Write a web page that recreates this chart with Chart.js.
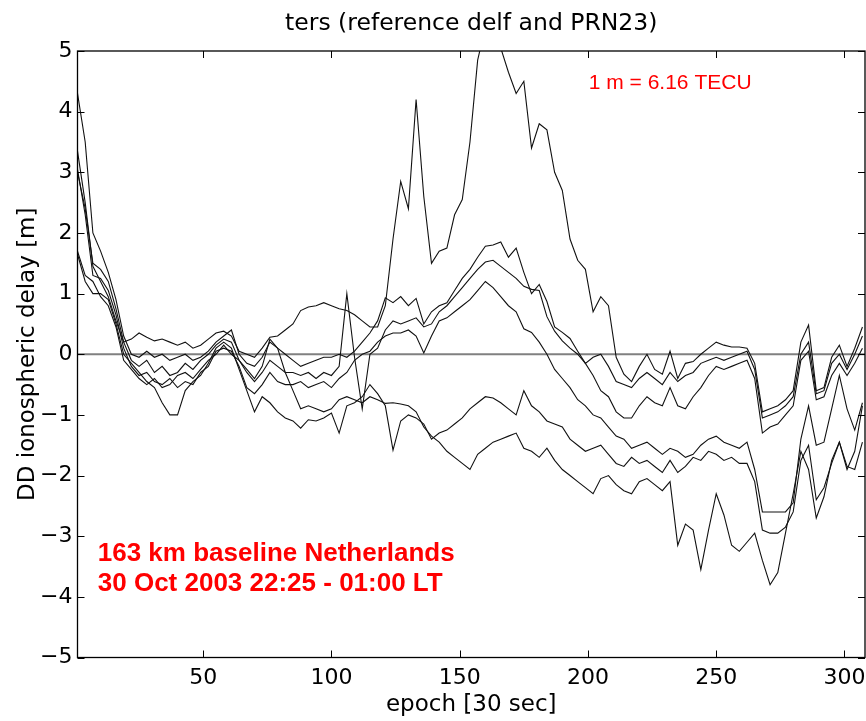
<!DOCTYPE html>
<html>
<head>
<meta charset="utf-8">
<script src="https://cdn.jsdelivr.net/npm/chart.js@4/dist/chart.umd.min.js"></script>
<style>
  html, body { margin: 0; padding: 0; background: #fff; }
  canvas { display: block; }
</style>
</head>
<body>
<canvas id="chart" width="866" height="721"></canvas>
<script>
// epochs (30 s) at which the double-difference delays are plotted
const epochs = [
  1, 4, 7, 10, 13, 16, 19, 22, 25, 28,
  31, 34, 37, 40, 43, 46, 49, 52, 55, 58,
  61, 64, 67, 70, 73, 76, 79, 82, 85, 88,
  91, 94, 97, 100, 103, 106, 109, 112, 115, 118,
  121, 124, 127, 130, 133, 136, 139, 142, 145, 148,
  151, 154, 157, 160, 163, 166, 169, 172, 175, 178,
  181, 184, 187, 190, 193, 196, 199, 202, 205, 208,
  211, 214, 217, 220, 223, 226, 229, 232, 235, 238,
  241, 244, 247, 250, 253, 256, 259, 262, 265, 268,
  271, 274, 277, 280, 283, 286, 289, 292, 295, 298,
  301, 304, 307
];

// DD ionospheric delay [m], one array per satellite pair
const ddA = [
  3.35, 2.5, 1.45, 1.2, 0.95, 0.55, 0.2, 0.25, 0.35, 0.28,
  0.22, 0.25, 0.2, 0.15, 0.2, 0.1, 0.15, 0.25, 0.35, 0.38,
  0.3, 0.05, 0.0, -0.05, 0.1, 0.28, 0.3, 0.4, 0.5, 0.72,
  0.78, 0.8, 0.85, 0.8, 0.75, 0.72, 0.65, 0.55, 0.45, 0.45,
  0.8, 1.9, 2.85, 2.4, 4.2, 2.6, 1.5, 1.7, 1.75, 2.3,
  2.55, 3.5, 4.85, 5.4, 5.5, 5.05, 4.65, 4.3, 4.5, 3.4,
  3.8, 3.7, 3.0, 2.7, 1.9, 1.55, 1.4, 0.7, 0.95, 0.8,
  -0.05, -0.33, -0.45, -0.2, 0.0, -0.25, -0.33, 0.05, -0.4, -0.15,
  -0.12, 0.0, 0.1, 0.2, 0.15, 0.12, 0.12, 0.1, -0.15, -0.95,
  -0.9, -0.85, -0.75, -0.6, 0.2, 0.48, -0.6, -0.55, -0.05, 0.15,
  -0.2, 0.1, 0.45
];
const ddB = [
  4.3, 3.5, 2.0, 1.7, 1.35, 0.9, 0.3, 0.0, -0.05, 0.05,
  -0.05, 0.0, -0.1, -0.05, 0.0, -0.1, -0.05, 0.05, 0.2, 0.3,
  0.4, 0.0, -0.15, -0.2, -0.05, 0.2, 0.1, 0.0, -0.1, -0.2,
  -0.15, -0.1, -0.05, -0.05, 0.0, -0.05, 0.05, 0.2, 0.35, 0.55,
  0.93, 0.85, 0.95, 0.8, 0.92, 0.5, 0.7, 0.8, 0.85, 1.05,
  1.25, 1.4, 1.6, 1.78, 1.8, 1.85, 1.6, 1.75, 1.35, 1.0,
  1.15, 0.87, 0.45, 0.36, 0.26, 0.05, -0.15, -0.05, 0.0, -0.2,
  -0.45, -0.5, -0.55, -0.4, -0.3, -0.4, -0.5, -0.3, -0.45, -0.35,
  -0.3, -0.15, -0.1, -0.05, -0.1, -0.05, 0.0, 0.05, -0.25, -1.05,
  -1.0, -0.95, -0.85, -0.7, 0.0, 0.2, -0.65, -0.6, -0.15, 0.0,
  -0.25, 0.0, 0.3
];
const ddC = [
  3.0, 2.4, 1.5, 1.4, 1.2, 0.75, 0.2, -0.1, -0.2, -0.1,
  -0.3, -0.2, -0.35, -0.3, -0.15, -0.25, -0.1, 0.0, 0.15, 0.25,
  0.2, -0.1, -0.3, -0.45, -0.3, -0.1, -0.2, -0.3, -0.3, -0.35,
  -0.3, -0.4, -0.3, -0.35, -0.2, 1.0, -0.05, -0.9, 0.0, 0.1,
  0.4, 0.55, 0.5, 0.55, 0.6, 0.45, 0.5, 0.7, 0.8, 0.95,
  1.1, 1.25, 1.4, 1.52, 1.55, 1.45, 1.35, 1.25, 1.12, 1.07,
  1.05, 0.62, 0.38, 0.22, 0.1, 0.0, -0.15, -0.35, -0.6, -0.7,
  -0.95, -1.05, -1.05, -0.85, -0.7, -0.8, -0.85, -0.55, -0.85, -0.9,
  -0.7, -0.55, -0.35, -0.2, -0.25, -0.2, -0.15, -0.1, -0.4, -1.3,
  -1.2, -1.15, -1.0, -0.85, -0.1, 0.05, -0.75, -0.7, -0.35, -0.15,
  -0.35, -0.15, 0.1
];
const ddD = [
  3.05, 2.3, 1.3, 1.25, 1.05, 0.65, 0.1, -0.2, -0.35, -0.3,
  -0.45, -0.5, -0.4, -0.55, -0.45, -0.5, -0.3, -0.2, 0.05, 0.1,
  0.05, -0.2, -0.55, -0.65, -0.5, -0.3, -0.45, -0.5, -0.5, -0.45,
  -0.55, -0.5, -0.45, -0.55, -0.4, -0.3, -0.1, 0.0, 0.05, 0.2,
  0.3, 0.35, 0.35, 0.4, 0.3, 0.02, 0.3, 0.55, 0.6, 0.7,
  0.8, 0.9, 1.05, 1.2, 1.1, 0.95, 0.8, 0.7, 0.42, 0.36,
  0.2, 0.0, -0.25, -0.4, -0.55, -0.75, -0.85, -1.0, -1.05, -1.2,
  -1.35, -1.4, -1.55, -1.5, -1.45, -1.55, -1.65, -1.55, -1.6, -1.7,
  -1.65, -1.5, -1.4, -1.35, -1.45, -1.5, -1.55, -1.45, -1.9, -2.6,
  -2.6, -2.6, -2.6, -2.45, -1.4, -0.85, -1.5, -1.45, -0.9, -0.35,
  -0.9, -1.25, -0.8
];
const ddE = [
  1.65, 1.2, 1.0, 1.0, 0.9, 0.5, 0.0, -0.15, -0.3, -0.45,
  -0.55, -0.8, -1.0, -1.0, -0.6, -0.45, -0.35, -0.15, 0.1, 0.2,
  0.1, -0.25, -0.6, -0.95, -0.7, -0.8, -0.95, -1.05, -1.1, -1.22,
  -1.08, -1.1, -1.05, -0.97, -1.3, -0.85, -0.8, -0.7, -0.5, -0.65,
  -0.85, -1.58, -1.1, -1.0, -1.05, -1.15, -1.4, -1.3, -1.25, -1.15,
  -1.05, -0.9, -0.8, -0.7, -0.72, -0.8, -0.9, -1.0, -0.6, -0.85,
  -0.95, -1.1, -1.15, -1.2, -1.4, -1.5, -1.6, -1.55, -1.5, -1.65,
  -1.8, -1.85, -1.7, -1.8, -1.75, -1.85, -1.95, -1.75, -1.95, -1.85,
  -1.7, -1.75, -1.6, -1.65, -1.75, -1.7, -1.8, -1.8, -2.1, -2.9,
  -2.95, -2.95, -2.85, -2.6, -1.75, -1.5, -2.4, -2.2, -1.8, -1.45,
  -1.85, -1.9, -1.45
];
const ddF = [
  1.7, 1.3, 1.2, 0.95, 0.8, 0.45, -0.1, -0.25, -0.4, -0.5,
  -0.4, -0.55, -0.5, -0.35, -0.3, -0.4, -0.25, -0.1, 0.0, 0.15,
  0.0, -0.1, -0.25, -0.4, -0.2, 0.25, 0.1, -0.3, -0.6, -0.9,
  -0.85, -0.9, -0.95, -0.9, -0.75, -0.7, -0.75, -0.8, -0.7, -0.75,
  -0.81, -0.8, -0.82, -0.85, -0.95, -1.2, -1.35, -1.45, -1.6, -1.7,
  -1.8, -1.9, -1.65, -1.55, -1.45, -1.4, -1.35, -1.3, -1.55, -1.6,
  -1.7, -1.55, -1.75, -1.9, -2.0, -2.1, -2.2, -2.3, -2.05, -2.0,
  -2.15, -2.25, -2.3, -2.1, -2.05, -2.15, -2.25, -2.1, -3.15, -2.8,
  -2.9, -3.55, -2.9, -2.3, -2.65, -3.15, -3.25, -3.1, -2.95, -3.4,
  -3.8, -3.6, -2.95, -2.3, -1.6, -1.9, -2.7, -2.35, -1.75, -1.45,
  -1.9, -1.6, -0.85
];

// zero reference line
const zeroEpochs = [1, 308];
const zeroValues = [0, 0];

// axis ticks
const xTicks = [50, 100, 150, 200, 250, 300];
const yTicks = [-5, -4, -3, -2, -1, 0, 1, 2, 3, 4, 5];

const titleText = 'ters (reference delf and PRN23)';
const xTitle = 'epoch [30 sec]';
const yTitle = 'DD ionospheric delay [m]';
const noteScale = '1 m = 6.16 TECU';
const noteLines = ['163 km baseline Netherlands', '30 Oct 2003 22:25 - 01:00 LT'];

const series = [ddA, ddB, ddC, ddD, ddE, ddF];
const toPoints = (xs, ys) => ys.map((v, i) => ({ x: xs[i], y: v }));

const datasets = series.map(vals => ({
  data: toPoints(epochs, vals),
  borderColor: '#111',
  borderWidth: 1.1,
  pointRadius: 0,
  tension: 0,
  fill: false
}));
datasets.push({
  data: toPoints(zeroEpochs, zeroValues),
  borderColor: '#808080',
  borderWidth: 2,
  pointRadius: 0,
  fill: false,
  order: 1
});

const mfont = 'DejaVu Sans';
const fmtTick = v => (v < 0 ? '\u2212' + Math.abs(v) : String(v));

// box frame with inward ticks on all four sides, plus the red annotations
const frameAndNotes = {
  id: 'frameAndNotes',
  afterDatasetsDraw(chart) {
    const { ctx, chartArea: a, scales: { x, y } } = chart;
    const tl = 7;
    ctx.save();
    ctx.strokeStyle = '#000';
    ctx.lineWidth = 1;
    ctx.beginPath();
    xTicks.forEach(v => {
      const px = Math.round(x.getPixelForValue(v)) + 0.5;
      ctx.moveTo(px, a.bottom); ctx.lineTo(px, a.bottom - tl);
      ctx.moveTo(px, a.top); ctx.lineTo(px, a.top + tl);
    });
    yTicks.forEach(v => {
      const py = Math.round(y.getPixelForValue(v)) + 0.5;
      ctx.moveTo(a.left, py); ctx.lineTo(a.left + tl, py);
      ctx.moveTo(a.right, py); ctx.lineTo(a.right - tl, py);
    });
    ctx.stroke();
    ctx.lineWidth = 1.3;
    ctx.strokeRect(a.left, a.top, a.right - a.left, a.bottom - a.top);

    ctx.fillStyle = '#ff0000';
    ctx.textAlign = 'left';
    ctx.textBaseline = 'alphabetic';
    ctx.font = '21px "Liberation Sans", Arial, sans-serif';
    ctx.fillText(noteScale, x.getPixelForValue(200.3), y.getPixelForValue(4.37));
    ctx.font = 'bold 26px "Liberation Sans", Arial, sans-serif';
    ctx.fillText(noteLines[0], x.getPixelForValue(8.9), y.getPixelForValue(-3.41));
    ctx.fillText(noteLines[1], x.getPixelForValue(8.9), y.getPixelForValue(-3.90));
    ctx.restore();
  }
};

new Chart(document.getElementById('chart'), {
  type: 'line',
  data: { datasets },
  options: {
    responsive: false,
    animation: false,
    devicePixelRatio: 1,
    events: [],
    layout: { padding: { left: 0, right: 1, top: 0, bottom: 0 } },
    plugins: {
      legend: { display: false },
      tooltip: { enabled: false },
      title: {
        display: true,
        text: titleText,
        fullSize: false,
        color: '#000',
        font: { family: mfont, size: 23.5, weight: 'normal' },
        padding: { top: 9.4, bottom: 13.4 }
      }
    },
    scales: {
      x: {
        type: 'linear',
        min: 1,
        max: 308,
        afterBuildTicks: s => { s.ticks = xTicks.map(v => ({ value: v })); },
        afterFit: s => { s.height = 63.5; s.paddingLeft = 0; s.paddingRight = 0; },
        grid: { display: false, drawTicks: false },
        border: { display: false },
        ticks: {
          color: '#000',
          font: { family: mfont, size: 22 },
          padding: 8,
          maxRotation: 0,
          autoSkip: false,
          callback: v => fmtTick(v)
        },
        title: {
          display: true,
          text: xTitle,
          color: '#000',
          font: { family: mfont, size: 23 },
          padding: { top: 0, bottom: 2 }
        }
      },
      y: {
        min: -5,
        max: 5,
        afterBuildTicks: s => { s.ticks = yTicks.map(v => ({ value: v })); },
        afterFit: s => { s.width = 77.5; s.paddingTop = 0; s.paddingBottom = 0; },
        grid: { display: false, drawTicks: false },
        border: { display: false },
        ticks: {
          color: '#000',
          font: { family: mfont, size: 22 },
          padding: 5,
          callback: v => fmtTick(v)
        },
        title: {
          display: true,
          text: yTitle,
          color: '#000',
          font: { family: mfont, size: 23 },
          padding: { top: 14, bottom: 0 }
        }
      }
    }
  },
  plugins: [frameAndNotes]
});
</script>
</body>
</html>
